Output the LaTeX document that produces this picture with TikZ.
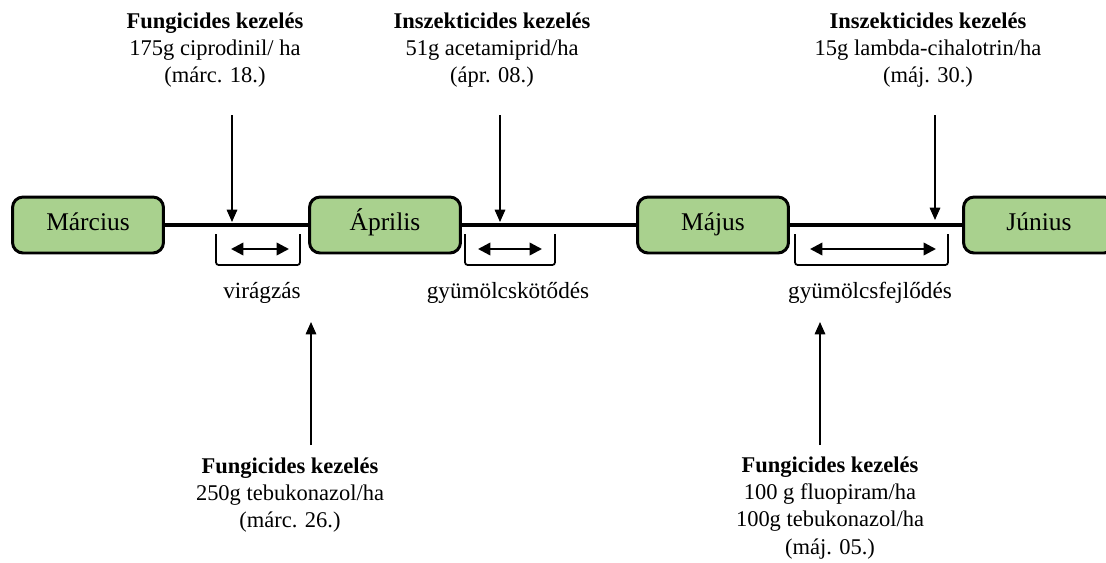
\documentclass[tikz,border=0pt]{standalone}
\usepackage{fontspec}
\setmainfont{Liberation Serif}
\usepackage{tikz}
\usetikzlibrary{arrows.meta}
\usetikzlibrary{positioning}

\definecolor{honap}{HTML}{A9D18E}

\begin{document}
\begin{tikzpicture}[x=0.02cm, y=-0.02cm,
  month/.style={draw, rectangle, rounded corners=6pt, fill=honap, line width=1.7pt,
    minimum width=3.02cm, minimum height=1.12cm, text height=1.9ex, text depth=0.5ex,
    font=\fontsize{14.5}{17}\selectfont},
  info/.style={align=center, font=\fontsize{12.8}{15.4}\selectfont},
  phase/.style={font=\fontsize{13.2}{16}\selectfont},
  timeline/.style={line width=2pt},
  bracket/.style={line width=1pt, rounded corners=1.5pt},
  span/.style={{Triangle[length=7pt,width=7pt]}-{Triangle[length=7pt,width=7pt]}, line width=1.4pt},
  treat/.style={-{Triangle[length=7pt,width=6pt]}, line width=0.8pt}]
\useasboundingbox (0,0) rectangle (1106,562);

% honapok
\node[month] (mar) at (88,225) {Március};
\node[month] (apr) at (385,225) {Április};
\node[month] (maj) at (713,225) {Május};
\node[month] (jun) at (1039,225) {Június};
\draw[timeline] (mar) -- (apr);
\draw[timeline] (apr) -- (maj);
\draw[timeline] (maj) -- (jun);

% fenologiai szakaszok
\draw[bracket] (216,234) |- (300,265) -- (300,234);
\draw[span] (231,249) -- (289,249);
\node[phase] (vir) at (262,293) {virágzás};
\draw[bracket] (465,234) |- (555,265) -- (555,234);
\draw[span] (478,249) -- (542,249);
\node[phase] (kot) at (508,293) {gyümölcskötődés};
\draw[bracket] (795,234) |- (948,265) -- (948,234);
\draw[span] (810,249) -- (936,249);
\node[phase] (fej) at (870,293) {gyümölcsfejlődés};

% kezelesek felul
\node[info] (k1) at (215,50) {\textbf{Fungicides kezelés}\\175g ciprodinil/ ha\\(márc. 18.)};
\node[info] (k2) at (492,50) {\textbf{Inszekticides kezelés}\\51g acetamiprid/ha\\(ápr. 08.)};
\node[info] (k3) at (928,50) {\textbf{Inszekticides kezelés}\\15g lambda-cihalotrin/ha\\(máj. 30.)};
\coordinate (a1) at (232,115); \coordinate (b1) at (232,222);
\coordinate (a2) at (500,115); \coordinate (b2) at (500,222);
\coordinate (a3) at (935,115); \coordinate (b3) at (935,220);
\draw[treat] (a1) -- (b1);
\draw[treat] (a2) -- (b2);
\draw[treat] (a3) -- (b3);

% kezelesek alul
\node[info] (k4) at (290,495) {\textbf{Fungicides kezelés}\\250g tebukonazol/ha\\(márc. 26.)};
\node[info] (k5) at (830,508) {\textbf{Fungicides kezelés}\\100 g fluopiram/ha\\100g tebukonazol/ha\\(máj. 05.)};
\coordinate (a4) at (311,445); \coordinate (b4) at (311,322);
\coordinate (a5) at (820,445); \coordinate (b5) at (820,322);
\draw[treat] (a4) -- (b4);
\draw[treat] (a5) -- (b5);
\end{tikzpicture}
\end{document}
